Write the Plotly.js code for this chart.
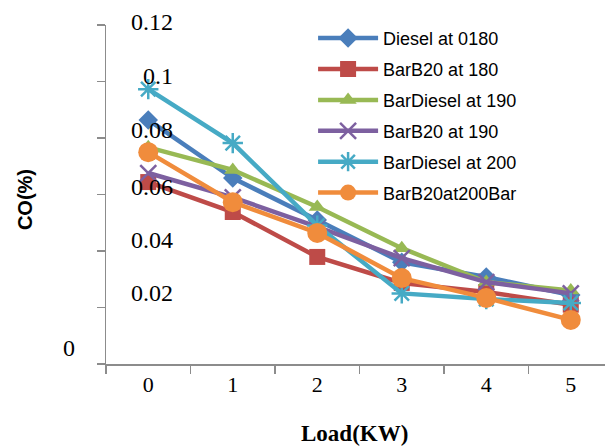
<!DOCTYPE html>
<html>
<head>
<meta charset="utf-8">
<script src="https://cdn.plot.ly/plotly-3.0.1.min.js"></script>
<style>html,body{margin:0;padding:0;background:#fff;}#chart{width:605px;height:447px;}</style>
</head>
<body>
<div id="chart"></div>
<script>
// ---- data ----
var loads = ['0', '1', '2', '3', '4', '5'];
var seriesNames = ['Diesel at 0180', 'BarB20 at 180', 'BarDiesel at 190', 'BarB20 at 190', 'BarDiesel at 200', 'BarB20at200Bar'];
var dieselAt0180    = [0.0864, 0.0658, 0.0510, 0.0360, 0.0308, 0.0244];
var barB20At180     = [0.0644, 0.0538, 0.0379, 0.0287, 0.0255, 0.0210];
var barDieselAt190  = [0.0767, 0.0687, 0.0556, 0.0410, 0.0290, 0.0260];
var barB20At190     = [0.0676, 0.0590, 0.0485, 0.0375, 0.0290, 0.0250];
var barDieselAt200  = [0.0973, 0.0782, 0.0490, 0.0250, 0.0230, 0.0216];
var barB20At200Bar  = [0.0750, 0.0573, 0.0464, 0.0304, 0.0234, 0.0156];
var yTickVals = [0, 0.02, 0.04, 0.06, 0.08, 0.10, 0.12];
var yTickText = ['0', '0.02', '0.04', '0.06', '0.08', '0.1', '0.12'];

// ---- styles ----
var allSeries = [dieselAt0180, barB20At180, barDieselAt190, barB20At190, barDieselAt200, barB20At200Bar];
var colors = ['#4a7ebb', '#be4b48', '#98b954', '#7d60a0', '#46aac5', '#f08c3c'];
var symbols = ['diamond', 'square', 'triangle-up', 'x-thin', 'asterisk-open', 'circle'];
var sizes = [15, 16, 15, 16, 17, 20];

var traces = allSeries.map(function (vals, i) {
  var lineSym = (symbols[i] === 'x-thin' || symbols[i] === 'asterisk-open');
  return {
    type: 'scatter',
    mode: 'lines+markers',
    x: loads,
    y: vals,
    name: seriesNames[i],
    legendgroup: 'g' + i,
    line: {color: colors[i], width: 4.5},
    marker: {
      symbol: symbols[i],
      size: sizes[i],
      color: colors[i],
      line: {color: colors[i], width: lineSym ? 2.5 : 0}
    }
  };
});

// y tick labels (offset as in the reference)
var yLabelRight = [77, 175, 175, 175, 175, 175, 175];
var yLabelShift = [16, 15, 11, 8, 8, 6, 3];
var plotLeft = 106;
var annotations = yTickVals.map(function (v, i) {
  return {
    text: yTickText[i], xref: 'paper', yref: 'y', x: 0, y: v,
    xshift: yLabelRight[i] - plotLeft, yshift: yLabelShift[i],
    xanchor: 'right', yanchor: 'middle', showarrow: false,
    font: {family: 'Liberation Serif, Times New Roman, serif', size: 24, color: '#000'}
  };
});
annotations.push({
  text: '<b>Load(KW)</b>', xref: 'paper', yref: 'paper', x: 0.497, y: -0.2153,
  yshift: 3,
  xanchor: 'center', yanchor: 'middle', showarrow: false,
  font: {family: 'Liberation Serif, Times New Roman, serif', size: 23, color: '#000'}
});
annotations.push({
  text: '<b>CO(%)</b>', xref: 'paper', yref: 'paper', x: -0.162, y: 0.484,
  xanchor: 'center', yanchor: 'middle', textangle: -90, showarrow: false,
  font: {family: 'Liberation Sans, Arial, sans-serif', size: 20, color: '#000'}
});

var layout = {
  width: 605, height: 447,
  margin: {l: 106, r: 0, t: 25, b: 83},
  paper_bgcolor: '#fff', plot_bgcolor: '#fff',
  showlegend: true,
  legend: {
    x: 0.415, y: 1.015, xanchor: 'left', yanchor: 'top',
    bgcolor: 'rgba(0,0,0,0)', traceorder: 'grouped', tracegroupgap: 4.5,
    itemwidth: 60,
    font: {family: 'Liberation Sans, Arial, sans-serif', size: 18, color: '#000'}
  },
  xaxis: {
    type: 'category', range: [-0.5, 5.405], tickson: 'boundaries',
    showline: true, linecolor: '#8c8c8c', linewidth: 1.5,
    ticks: 'outside', ticklen: 8, tickcolor: '#8c8c8c', tickwidth: 1.5,
    showgrid: false, zeroline: false,
    tickfont: {family: 'Liberation Serif, Times New Roman, serif', size: 22, color: '#000'}
  },
  yaxis: {
    range: [0, 0.12], tickvals: yTickVals, showticklabels: false,
    showline: true, linecolor: '#8c8c8c', linewidth: 1.5,
    ticks: 'outside', ticklen: 8, tickcolor: '#8c8c8c', tickwidth: 1.5,
    showgrid: false, zeroline: false
  },
  annotations: annotations
};

Plotly.newPlot('chart', traces, layout, {displayModeBar: false, staticPlot: true});
</script>
</body>
</html>
